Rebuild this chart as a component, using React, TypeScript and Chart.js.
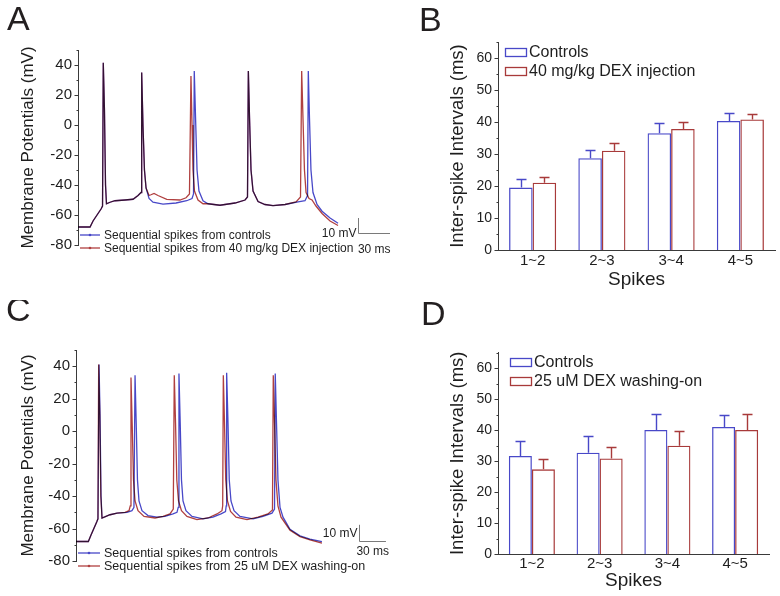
import React, { useEffect, useRef } from 'react';
import { Chart, registerables } from 'chart.js';

Chart.register(...registerables);

const FONT = '"Liberation Sans", Arial, Helvetica, sans-serif';
const BLUE = '#4848c8';
const RED = '#a83a3a';
const TEXT = '#1e1e1e';
const AXIS = '#3a3a3a';

// ---------- Panel A: membrane potential traces (time in ms, voltage in mV) ----------
const aControlT = [0, 11.3, 14.1, 21.6, 23.0, 23.7, 24.8, 25.8, 26.7, 30.0, 34.7, 44.1, 51.6, 56.3, 59.1, 59.7, 60.9, 62.3, 63.8, 66.6, 70.3, 79.7, 91.9, 101.9, 106.9, 108.3, 109.0, 110.2, 111.6, 113.4, 117.2, 121.9, 133.1, 147.2, 156.6, 158.9, 159.7, 160.8, 162.2, 164.1, 168.8, 175.3, 182.8, 194.1, 206.3, 212.8, 215.2, 215.9, 217.0, 218.4, 220.3, 224.1, 228.8, 236.3, 243.8];
const aControlV = [-68, -68, -64, -56, -54, 41.5, 10, -40, -52.5, -51.5, -50.5, -50, -49.5, -47, -45, 35, 0, -30, -42, -49, -51.5, -52.7, -52, -50.5, -49, -46, 36, 5, -30, -44, -50.5, -52.5, -53.5, -52, -50, -48, 36, 5, -30, -44, -51, -53, -53.8, -53, -51.2, -50.5, -47, 36, 5, -30, -45, -53, -57.5, -62, -65.5];
const aDexT = [0, 11.3, 14.1, 21.6, 23.0, 23.7, 24.8, 25.8, 26.7, 30.0, 34.7, 44.1, 51.6, 56.3, 59.1, 59.7, 60.9, 62.3, 63.8, 66.6, 68.4, 71.3, 75.0, 83.2, 95.6, 101.3, 104.5, 105.9, 106.9, 107.8, 109.2, 112.5, 117.2, 121.9, 133.1, 147.2, 156.6, 158.9, 159.7, 160.8, 162.2, 164.1, 168.8, 175.3, 182.8, 194.1, 204.4, 208.6, 209.7, 210.9, 212.3, 213.8, 216.6, 219.4, 223.1, 228.8, 236.3, 243.8];
const aDexV = [-68, -68, -64, -56, -54, 41.5, 10, -40, -52.5, -51.5, -50.5, -50, -49.5, -47, -45, 35, 0, -30, -42, -47, -46.5, -45.6, -47, -49.6, -50, -48.5, -46, 32.7, 0, -30, -44, -50, -52.5, -52.5, -53.5, -52, -50, -48, 36, 5, -30, -44, -51, -53, -53.8, -53, -51.3, -48, 36, 5, -30, -45, -49, -50, -54, -59, -64, -67];

// ---------- Panel C: membrane potential traces ----------
const cControlT = [0, 13.7, 16.7, 23.0, 24.4, 25.6, 26.7, 27.8, 28.9, 33.3, 37.8, 45.6, 56.7, 62.2, 64.4, 65.6, 66.9, 68.3, 70.0, 73.3, 80.0, 90.0, 98.9, 107.8, 112.2, 113.6, 114.4, 115.8, 117.2, 118.9, 122.2, 128.9, 141.1, 152.2, 161.1, 166.1, 166.9, 167.4, 168.9, 170.3, 172.2, 175.6, 182.2, 196.7, 207.8, 217.8, 220.6, 221.4, 222.8, 224.4, 226.7, 230.0, 237.8, 248.9, 260.0, 273.3];
const cControlV = [-68, -68, -64, -56, -54, 41, 10, -40, -53.5, -52.5, -51.5, -50.5, -50, -49, -47, 34.5, 5, -30, -43, -49, -52, -53, -52.5, -51, -50, -47, 35.5, 5, -30, -43, -49, -52.5, -54, -53, -51, -49.5, -46, 36, 5, -30, -43, -49, -52.5, -54, -52.5, -50.5, -48, 35.5, 5, -30, -47, -53, -60.5, -64.5, -66.5, -68];
const cDexT = [0, 13.7, 16.7, 23.0, 24.4, 25.2, 26.4, 27.6, 28.9, 33.3, 37.8, 45.6, 54.4, 58.9, 60.3, 61.1, 62.4, 63.9, 65.6, 68.9, 75.6, 87.8, 96.7, 104.4, 108.1, 109.2, 110.6, 112.0, 113.9, 117.2, 123.3, 134.4, 146.7, 156.7, 162.2, 163.0, 163.7, 165.0, 166.4, 168.3, 171.7, 177.8, 190.0, 202.2, 213.3, 218.3, 219.2, 220.6, 222.2, 224.4, 227.8, 237.8, 248.9, 260.0, 273.3];
const cDexV = [-68, -68, -64, -56, -54, 41, 10, -40, -53.5, -52.5, -51.5, -50.5, -50, -49, -46, 33, 5, -30, -43, -49, -52.5, -53.5, -52.5, -51, -48, 34.5, 5, -30, -43, -49, -52.5, -54.5, -53.5, -51, -49, -46, 34.5, 5, -30, -43, -49.5, -53, -54.5, -53, -51, -48.5, 34.5, 5, -30, -46, -53, -61, -65, -67, -69];

const potentialTicks = [-80, -60, -40, -20, 0, 20, 40];
const scaleBarMs = 30;
const scaleBarMv = 10;

// ---------- Panels B & D: inter-spike intervals ----------
const spikeCategories = ['1~2', '2~3', '3~4', '4~5'];
const bControlsMean = [19.5, 28.7, 36.5, 40.3];
const bControlsErr = [2.7, 2.6, 3.1, 2.4];
const bDexMean = [21.0, 31.0, 37.8, 40.8];
const bDexErr = [1.8, 2.3, 2.2, 1.6];
const dControlsMean = [31.6, 32.7, 40.0, 41.0];
const dControlsErr = [4.8, 5.3, 5.1, 3.7];
const dDexMean = [27.3, 30.8, 34.9, 40.0];
const dDexErr = [3.2, 3.8, 4.8, 5.1];
const intervalTicks = [0, 10, 20, 30, 40, 50, 60];

// ---------- shared plugins ----------
const multiplyPlugin = {
  id: 'multiplyBlend',
  beforeDatasetsDraw(chart: any) {
    chart.ctx.save();
    chart.ctx.globalCompositeOperation = 'multiply';
  },
  afterDatasetsDraw(chart: any) {
    chart.ctx.restore();
  },
};

function yTicksPlugin(majors: number[]) {
  return {
    id: 'yTickMarks',
    afterDraw(chart: any) {
      const s = chart.scales.y;
      const ctx = chart.ctx;
      ctx.save();
      ctx.strokeStyle = AXIS;
      ctx.lineWidth = 1;
      s.ticks.forEach((t: any) => {
        const y = Math.round(s.getPixelForValue(t.value)) + 0.5;
        const len = majors.includes(t.value) ? 4 : 2;
        const x = Math.round(s.right) + 0.5;
        ctx.beginPath();
        ctx.moveTo(x, y);
        ctx.lineTo(x - len, y);
        ctx.stroke();
      });
      ctx.restore();
    },
  };
}

function letterPlugin(letter: string, x: number, y: number) {
  return {
    id: 'panelLetter',
    afterDraw(chart: any) {
      const ctx = chart.ctx;
      ctx.save();
      ctx.fillStyle = '#231f20';
      ctx.font = `34px ${FONT}`;
      ctx.textAlign = 'left';
      ctx.textBaseline = 'alphabetic';
      ctx.fillText(letter, x, y);
      ctx.restore();
    },
  };
}

type TraceOpts = {
  letter: string;
  letterX: number;
  letterY: number;
  controlT: number[];
  controlV: number[];
  dexT: number[];
  dexV: number[];
  dexLabel: string;
  xMax: number;
  axisWidth: number;
  padBottom: number;
  legendX0: number;
  legendX1: number;
  legendY: number[];
  legendFont: number;
  barT: number;
  barV: number;
  mvTextDy: number;
  msTextDy: number;
};

function traceConfig(o: TraceOpts): any {
  const toPts = (t: number[], v: number[]) => t.map((x, i) => ({ x, y: v[i] }));
  const extras = {
    id: 'traceExtras',
    afterDraw(chart: any) {
      const ctx = chart.ctx;
      const xs = chart.scales.x;
      const ys = chart.scales.y;
      ctx.save();
      // legend
      chart.data.datasets.forEach((ds: any, i: number) => {
        const y = o.legendY[i];
        ctx.strokeStyle = ds.borderColor;
        ctx.lineWidth = 1.3;
        ctx.beginPath();
        ctx.moveTo(o.legendX0, y);
        ctx.lineTo(o.legendX1, y);
        ctx.stroke();
        ctx.fillStyle = ds.borderColor;
        ctx.beginPath();
        ctx.arc((o.legendX0 + o.legendX1) / 2, y, 1.3, 0, Math.PI * 2);
        ctx.fill();
        ctx.fillStyle = TEXT;
        ctx.font = `${o.legendFont}px ${FONT}`;
        ctx.textAlign = 'left';
        ctx.textBaseline = 'middle';
        ctx.fillText(ds.label, o.legendX1 + 4, y + 0.5);
      });
      // scale bar
      const x0 = Math.round(xs.getPixelForValue(o.barT)) + 0.5;
      const x1 = xs.getPixelForValue(o.barT + scaleBarMs);
      const y0 = Math.round(ys.getPixelForValue(o.barV)) + 0.5;
      const y1 = ys.getPixelForValue(o.barV + scaleBarMv);
      ctx.strokeStyle = '#7a7a7a';
      ctx.lineWidth = 1;
      ctx.beginPath();
      ctx.moveTo(x0, y1);
      ctx.lineTo(x0, y0);
      ctx.lineTo(x1, y0);
      ctx.stroke();
      ctx.fillStyle = TEXT;
      ctx.font = `12px ${FONT}`;
      ctx.textAlign = 'right';
      ctx.textBaseline = 'middle';
      ctx.fillText(`${scaleBarMv} mV`, x0 - 2, y0 + o.mvTextDy);
      ctx.textAlign = 'center';
      ctx.fillText(`${scaleBarMs} ms`, (x0 + x1) / 2, y0 + o.msTextDy);
      ctx.restore();
    },
  };
  return {
    type: 'line',
    data: {
      datasets: [
        {
          label: 'Sequential spikes from controls',
          data: toPts(o.controlT, o.controlV),
          borderColor: BLUE,
          borderWidth: 1.3,
          pointRadius: 0,
          tension: 0,
          fill: false,
        },
        {
          label: o.dexLabel,
          data: toPts(o.dexT, o.dexV),
          borderColor: '#b04040',
          borderWidth: 1.3,
          pointRadius: 0,
          tension: 0,
          fill: false,
        },
      ],
    },
    options: {
      responsive: false,
      animation: false,
      layout: { padding: { top: 50, right: 5, bottom: o.padBottom, left: 0 } },
      plugins: { legend: { display: false }, tooltip: { enabled: false } },
      scales: {
        x: { type: 'linear', min: 0, max: o.xMax, display: false },
        y: {
          min: -80,
          max: 50,
          afterFit: (s: any) => {
            s.width = o.axisWidth;
          },
          ticks: {
            stepSize: 10,
            autoSkip: false,
            padding: 6,
            color: TEXT,
            font: { family: FONT, size: 15 },
            callback: (v: any) => (potentialTicks.includes(v) ? String(v) : ''),
          },
          grid: { display: false, drawTicks: false },
          border: { display: true, color: AXIS, width: 1 },
          title: {
            display: true,
            text: 'Membrane Potentials (mV)',
            color: TEXT,
            font: { family: FONT, size: 17 },
            padding: { top: 18, bottom: 0 },
          },
        },
      },
    },
    plugins: [multiplyPlugin, yTicksPlugin(potentialTicks), letterPlugin(o.letter, o.letterX, o.letterY), extras],
  };
}

type BarOpts = {
  letter: string;
  letterX: number;
  letterY: number;
  controlsMean: number[];
  controlsErr: number[];
  dexMean: number[];
  dexErr: number[];
  dexLabel: string;
  padTop: number;
  padRight: number;
  xAxisHeight: number;
  titleBottomPad: number;
  labelPad: number;
  legendX: number;
  legendY: number[];
  catPct: number;
};

function barConfig(o: BarOpts): any {
  const errorBars = {
    id: 'errorBars',
    afterDatasetsDraw(chart: any) {
      const ctx = chart.ctx;
      const ys = chart.scales.y;
      chart.data.datasets.forEach((ds: any, i: number) => {
        const meta = chart.getDatasetMeta(i);
        meta.data.forEach((bar: any, j: number) => {
          const v = ds.data[j];
          const e = ds.errors[j];
          const x = Math.round(bar.x) + 0.5;
          const yv = ys.getPixelForValue(v);
          const ye = Math.round(ys.getPixelForValue(v + e)) + 0.5;
          ctx.save();
          ctx.strokeStyle = ds.borderColor;
          ctx.lineWidth = 1.4;
          ctx.beginPath();
          ctx.moveTo(x, yv);
          ctx.lineTo(x, ye);
          ctx.moveTo(x - 5, ye);
          ctx.lineTo(x + 5, ye);
          ctx.stroke();
          ctx.restore();
        });
      });
    },
  };
  const legend = {
    id: 'barLegend',
    afterDraw(chart: any) {
      const ctx = chart.ctx;
      ctx.save();
      chart.data.datasets.forEach((ds: any, i: number) => {
        const y = o.legendY[i];
        ctx.strokeStyle = ds.borderColor;
        ctx.lineWidth = 1.3;
        ctx.strokeRect(o.legendX + 0.5, Math.round(y - 4) + 0.5, 21, 8);
        ctx.fillStyle = TEXT;
        ctx.font = `16px ${FONT}`;
        ctx.textAlign = 'left';
        ctx.textBaseline = 'middle';
        ctx.fillText(ds.label, o.legendX + 24, y + 0.5);
      });
      ctx.restore();
    },
  };
  return {
    type: 'bar',
    data: {
      labels: spikeCategories,
      datasets: [
        {
          label: 'Controls',
          data: o.controlsMean,
          errors: o.controlsErr,
          backgroundColor: 'rgba(255,255,255,0)',
          borderColor: BLUE,
          borderWidth: 1.3,
        },
        {
          label: o.dexLabel,
          data: o.dexMean,
          errors: o.dexErr,
          backgroundColor: 'rgba(255,255,255,0)',
          borderColor: RED,
          borderWidth: 1.3,
        },
      ],
    },
    options: {
      responsive: false,
      animation: false,
      categoryPercentage: o.catPct,
      barPercentage: 1,
      layout: { padding: { top: o.padTop, right: o.padRight, bottom: 0, left: 0 } },
      plugins: { legend: { display: false }, tooltip: { enabled: false } },
      scales: {
        x: {
          afterFit: (s: any) => {
            s.height = o.xAxisHeight;
          },
          ticks: { color: TEXT, padding: o.labelPad, font: { family: FONT, size: 15 } },
          grid: { display: false, drawTicks: false },
          border: { display: true, color: AXIS, width: 1 },
          title: {
            display: true,
            text: 'Spikes',
            color: TEXT,
            font: { family: FONT, size: 19 },
            padding: { top: 0, bottom: o.titleBottomPad },
          },
        },
        y: {
          min: 0,
          max: 65,
          afterFit: (s: any) => {
            s.width = 103;
          },
          ticks: {
            stepSize: 5,
            autoSkip: false,
            padding: 6,
            color: TEXT,
            font: { family: FONT, size: 14 },
            callback: (v: any) => (intervalTicks.includes(v) ? String(v) : ''),
          },
          grid: { display: false, drawTicks: false },
          border: { display: true, color: AXIS, width: 1 },
          title: {
            display: true,
            text: 'Inter-spike Intervals (ms)',
            color: TEXT,
            font: { family: FONT, size: 18.5 },
            padding: { top: 52, bottom: 0 },
          },
        },
      },
    },
    plugins: [yTicksPlugin(intervalTicks), errorBars, legend, letterPlugin(o.letter, o.letterX, o.letterY)],
  };
}

function ChartCanvas(props: { left: number; top: number; width: number; height: number; make: () => any }) {
  const ref = useRef<HTMLCanvasElement>(null);
  useEffect(() => {
    const chart = new Chart(ref.current as HTMLCanvasElement, props.make());
    return () => chart.destroy();
  }, []);
  return (
    <canvas
      ref={ref}
      width={props.width}
      height={props.height}
      style={{ position: 'absolute', left: props.left, top: props.top, width: props.width, height: props.height }}
    />
  );
}

export default function App() {
  return (
    <div style={{ position: 'absolute', left: 0, top: 0, width: 780, height: 596, background: '#ffffff', overflow: 'hidden' }}>
      <ChartCanvas
        left={0}
        top={0}
        width={395}
        height={300}
        make={() =>
          traceConfig({
            letter: 'A',
            letterX: 7,
            letterY: 30,
            controlT: aControlT,
            controlV: aControlV,
            dexT: aDexT,
            dexV: aDexV,
            dexLabel: 'Sequential spikes from 40 mg/kg DEX injection',
            xMax: 292.5,
            axisWidth: 78,
            padBottom: 55,
            legendX0: 80,
            legendX1: 100,
            legendY: [235, 248],
            legendFont: 12,
            barT: 262.5,
            barV: -72,
            mvTextDy: 0,
            msTextDy: 16,
          })
        }
      />
      <ChartCanvas
        left={395}
        top={0}
        width={385}
        height={300}
        make={() =>
          barConfig({
            letter: 'B',
            letterX: 24,
            letterY: 31,
            controlsMean: bControlsMean,
            controlsErr: bControlsErr,
            dexMean: bDexMean,
            dexErr: bDexErr,
            dexLabel: '40 mg/kg DEX injection',
            padTop: 42,
            padRight: 5,
            xAxisHeight: 50,
            titleBottomPad: 8.6,
            labelPad: 2,
            legendX: 110,
            legendY: [52, 71],
            catPct: 0.68,
          })
        }
      />
      <ChartCanvas
        left={0}
        top={300}
        width={395}
        height={296}
        make={() =>
          traceConfig({
            letter: 'C',
            letterX: 6,
            letterY: 21,
            controlT: cControlT,
            controlV: cControlV,
            dexT: cDexT,
            dexV: cDexV,
            dexLabel: 'Sequential spikes from 25 uM DEX washing-on',
            xMax: 348.9,
            axisWidth: 76,
            padBottom: 35,
            legendX0: 78,
            legendX1: 100,
            legendY: [253, 266],
            legendFont: 12.5,
            barT: 314.4,
            barV: -67.7,
            mvTextDy: -8,
            msTextDy: 10,
          })
        }
      />
      <ChartCanvas
        left={395}
        top={300}
        width={385}
        height={296}
        make={() =>
          barConfig({
            letter: 'D',
            letterX: 26,
            letterY: 25,
            controlsMean: dControlsMean,
            controlsErr: dControlsErr,
            dexMean: dDexMean,
            dexErr: dDexErr,
            dexLabel: '25 uM DEX washing-on',
            padTop: 52.5,
            padRight: 11,
            xAxisHeight: 42,
            titleBottomPad: 3.6,
            labelPad: 1,
            legendX: 115,
            legendY: [62, 81],
            catPct: 0.68,
          })
        }
      />
    </div>
  );
}
